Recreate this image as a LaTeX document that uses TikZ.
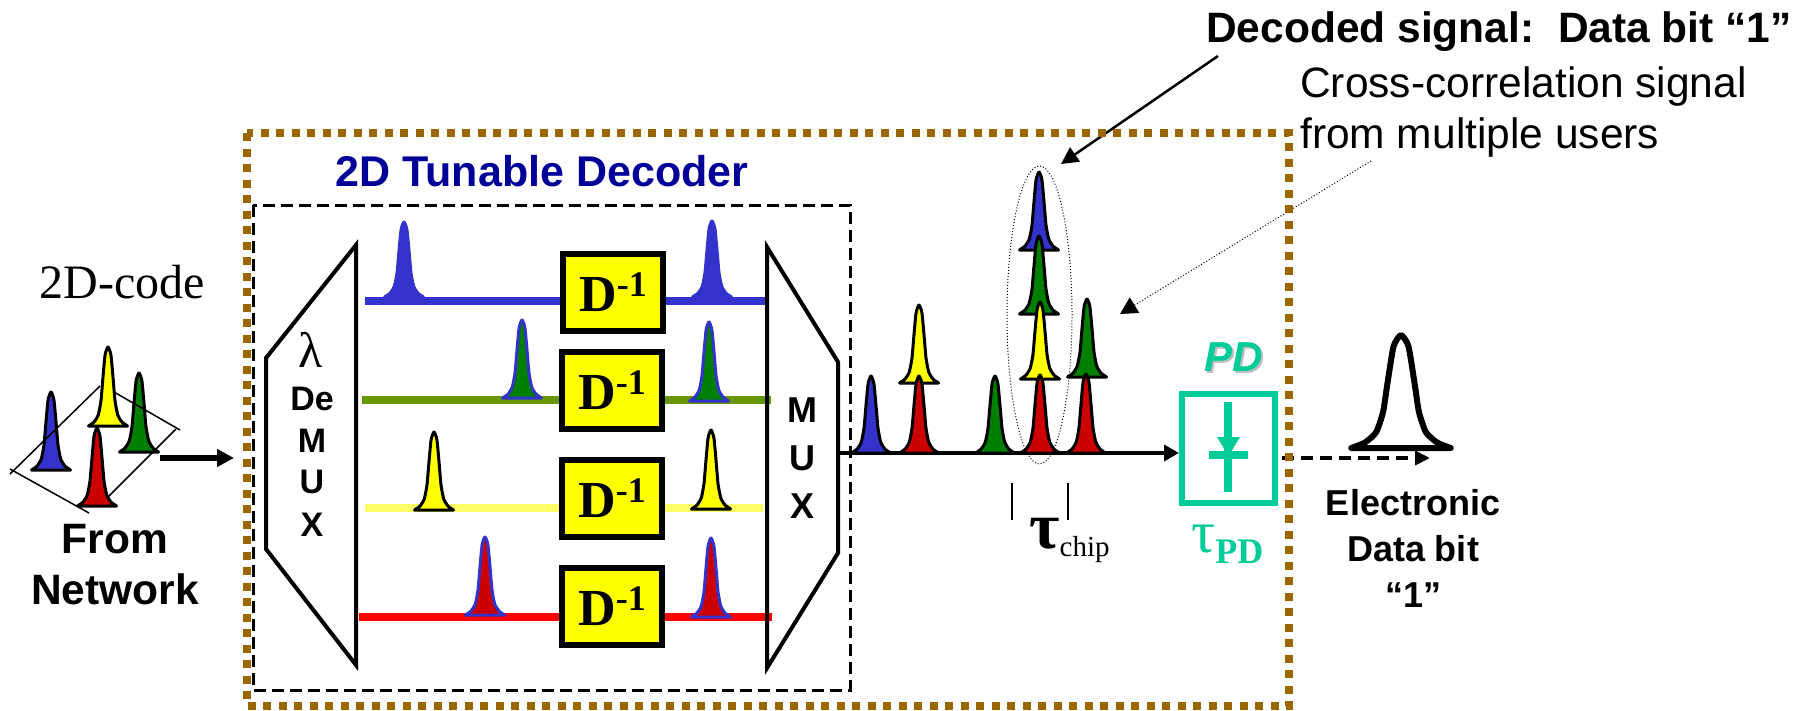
\documentclass[tikz,border=0pt]{standalone}
\usepackage{fontspec}
\setmainfont{Liberation Sans}
\newfontfamily\timesfont{Liberation Serif}
\usetikzlibrary{arrows.meta,shapes.geometric}
\definecolor{pulseblue}{HTML}{3333CC}
\definecolor{pulsegreen}{HTML}{007F00}
\definecolor{pulsered}{HTML}{CC0000}
\definecolor{pulseyellow}{HTML}{FFFF00}
\definecolor{linegreen}{HTML}{669900}
\definecolor{lineyellow}{HTML}{FFFF66}
\definecolor{linered}{HTML}{FF0000}
\definecolor{framebrown}{HTML}{996600}
\definecolor{pdteal}{HTML}{00CC99}
\definecolor{titleblue}{HTML}{000099}
\tikzset{
  boldlabel/.style={font=\fontsize{42.5}{51}\selectfont\bfseries,inner sep=0pt},
  plainlabel/.style={font=\fontsize{42.5}{51}\selectfont,inner sep=0pt},
  muxlabel/.style={font=\fontsize{34}{42}\selectfont\bfseries,inner sep=0pt},
  decoderbox/.style={draw,fill=pulseyellow,line width=6pt,minimum width=100pt,minimum height=77pt,inner sep=0pt,font=\timesfont\bfseries},
  wavelength/.style={line width=8pt},
  muxoutline/.style={line width=4pt,miter limit=20},
  thinrule/.style={line width=1.5pt},
  pulseline/.style={line width=3pt,line join=round,xscale=19.5},
}
% x position, base, height, fill, outline
\newcommand{\pulse}[6][]{\draw [shift={(#2,#3)},pulseline,draw=#6,fill=#5,yscale=#4,#1] plot [smooth,tension=0.35] coordinates {(-1,0) (-0.72,-0.05) (-0.5,-0.14) (-0.36,-0.32) (-0.27,-0.58) (-0.15,-0.9) (0,-1) (0.15,-0.9) (0.27,-0.58) (0.36,-0.32) (0.5,-0.14) (0.72,-0.05) (1,0)} -- cycle;}
\newcommand{\dinverse}{\fontsize{52}{52}\selectfont D\raisebox{15pt}{\fontsize{36}{36}\selectfont -1}}
\begin{document}
\begin{tikzpicture}[x=1pt,y=-1pt]
\useasboundingbox (0,0) rectangle (1806,710);
\coordinate (codeout) at (160,458);
\coordinate (demuxin) at (234,458);
\coordinate (bluein) at (365,301);
\coordinate (blueout) at (767,301);
\coordinate (greenin) at (362,400);
\coordinate (greenout) at (771,400);
\coordinate (yellowin) at (365,508);
\coordinate (yellowout) at (763,508);
\coordinate (redin) at (359,617);
\coordinate (redout) at (772,617);
\coordinate (muxout) at (838,453);
\coordinate (pdout) at (1282,458);
\coordinate (bitend) at (1430,458);
\coordinate (decodedstart) at (1218,56);
\coordinate (decodedtip) at (1061,164);
\coordinate (crossstart) at (1371,161);
\coordinate (crosstip) at (1120,314);
\coordinate (tickaup) at (1012,483);
\coordinate (tickadown) at (1012,520);
\coordinate (tickbup) at (1068,483);
\coordinate (tickbdown) at (1068,520);
\coordinate (planea) at (10,474);
\coordinate (planeb) at (100,386);
\coordinate (planec) at (114,392);
\coordinate (planed) at (180,430);
\coordinate (planee) at (176,429);
\coordinate (planef) at (108,497);
\coordinate (planeg) at (10,469);
\coordinate (planeh) at (89,513);
% incoming code
\pulse{108}{426}{79}{pulseyellow}{black}
\pulse{139}{452}{79}{pulsegreen}{black}
\pulse{51}{470}{78}{pulseblue}{black}
\pulse{97}{506}{78}{pulsered}{black}
\draw [thinrule] (planea) -- (planeb);
\draw [thinrule] (planec) -- (planed);
\draw [thinrule] (planee) -- (planef);
\draw [thinrule] (planeg) -- (planeh);
\node (codelabel) at (122,282) [font=\timesfont\fontsize{48}{48}\selectfont,inner sep=0pt] {2D-code};
\node (fromlabel) at (115,565) [boldlabel,align=center] {From\\Network};
\draw [line width=6pt,-{Triangle[length=17pt,width=17pt]}] (codeout) -- (demuxin);
% decoder
\draw [line width=3pt,dash pattern=on 12pt off 6pt] (253,205) rectangle (850,690);
\node (decodertitle) at (542,171) [boldlabel,text=titleblue,font=\fontsize{43}{51}\selectfont\bfseries] {2D Tunable Decoder};
\draw [wavelength,pulseblue] (bluein) -- (blueout);
\draw [wavelength,linegreen] (greenin) -- (greenout);
\draw [wavelength,lineyellow] (yellowin) -- (yellowout);
\draw [wavelength,linered] (redin) -- (redout);
\draw [muxoutline] (356,245) -- (266,358) -- (266,549) -- (356,665) -- cycle;
\draw [muxoutline] (767,247) -- (838,362) -- (838,553) -- (767,668) -- cycle;
\node (lambda) at (311,350) [font=\timesfont\fontsize{50}{50}\selectfont,inner sep=0pt] {λ};
\node (demuxde) at (312,410) [muxlabel,anchor=base] {De};
\node (demuxm) at (312,452) [muxlabel,anchor=base] {M};
\node (demuxu) at (312,493) [muxlabel,anchor=base] {U};
\node (demuxx) at (312,536) [muxlabel,anchor=base] {X};
\node (muxm) at (802,422) [muxlabel,anchor=base,font=\fontsize{36}{42}\selectfont\bfseries] {M};
\node (muxu) at (802,470) [muxlabel,anchor=base,font=\fontsize{36}{42}\selectfont\bfseries] {U};
\node (muxx) at (802,518) [muxlabel,anchor=base,font=\fontsize{36}{42}\selectfont\bfseries] {X};
\pulse{404}{297}{75}{pulseblue}{pulseblue}
\pulse{712}{297}{76}{pulseblue}{pulseblue}
\pulse{522}{398}{78}{pulsegreen}{pulseblue}
\pulse{709}{401}{79}{pulsegreen}{pulseblue}
\pulse{434}{510}{78}{pulseyellow}{black}
\pulse{711}{509}{79}{pulseyellow}{black}
\pulse{485}{615}{78}{pulsered}{pulseblue}
\pulse{711}{617}{79}{pulsered}{pulseblue}
\node (dblue) at (613,292.5) [decoderbox] {\dinverse};
\node (dgreen) at (612,390.5) [decoderbox] {\dinverse};
\node (dyellow) at (612,498.5) [decoderbox] {\dinverse};
\node (dred) at (612,606.5) [decoderbox] {\dinverse};
% photodetector
\node (pdbox) at (1228.5,448.5) [draw=pdteal,line width=6pt,minimum width=93pt,minimum height=109pt,inner sep=0pt] {};
% output pulses
\draw [line width=3.5pt,-{Triangle[length=15pt,width=16pt]}] (muxout) -- (muxout -| pdbox.west);
\pulse{871}{453}{77}{pulseblue}{black}
\pulse{919}{383}{78}{pulseyellow}{black}
\pulse{919}{453}{77}{pulsered}{black}
\pulse{995}{453}{77}{pulsegreen}{black}
\pulse{1039}{250}{78}{pulseblue}{black}
\pulse{1039}{314}{78}{pulsegreen}{black}
\pulse{1040}{379}{77}{pulseyellow}{black}
\pulse{1040}{453}{78}{pulsered}{black}
\pulse{1087}{377}{78}{pulsegreen}{black}
\pulse{1086}{453}{79}{pulsered}{black}
\node (decodedring) at (1039.5,315) [ellipse,draw,dotted,line width=1pt,minimum width=65pt,minimum height=298pt,inner sep=0pt] {};
\draw [thinrule] (tickaup) -- (tickadown);
\draw [thinrule] (tickbup) -- (tickbdown);
\node (tauchip) at (1029,548) [anchor=base west,inner sep=0pt,font=\timesfont\fontsize{66}{66}\selectfont\bfseries] {τ\raisebox{-8pt}{\fontsize{29}{29}\selectfont\mdseries chip}};
\node (decodedlabel) at (1206,42) [boldlabel,anchor=base west] {Decoded signal:\ \ Data bit “1”};
\node (crosslabel) at (1300,97) [plainlabel,anchor=base west] {Cross-correlation signal};
\node (userslabel) at (1300,148) [plainlabel,anchor=base west] {from multiple users};
\draw [line width=2.5pt,-{Triangle[length=17pt,width=17pt]}] (decodedstart) -- (decodedtip);
\draw [line width=1pt,dotted,-{Triangle[length=17pt,width=18pt]}] (crossstart) -- (crosstip);
\draw [pdteal,line width=8pt] (1228,402) -- (1228,492);
\draw [pdteal,line width=8pt] (1209,455) -- (1248,455);
\fill [pdteal] (1217,437) -- (1240,437) -- (1228.5,456) -- cycle;
\node (pdshadow) at (1236,373) [boldlabel,anchor=base,text=black!25,font=\fontsize{42}{42}\selectfont\bfseries\itshape] {PD};
\node (pdlabel) at (1234,371) [boldlabel,anchor=base,text=pdteal,font=\fontsize{42}{42}\selectfont\bfseries\itshape] {PD};
\node (taupd) at (1191,552) [anchor=base west,inner sep=0pt,text=pdteal,font=\timesfont\fontsize{60}{60}\selectfont] {τ\raisebox{-11pt}{\fontsize{36}{36}\selectfont\bfseries PD}};
% output bit
\draw [line width=4pt,dash pattern=on 12pt off 7pt,-{Triangle[length=15pt,width=14pt]}] (pdout) -- (bitend);
\pulse[line width=6pt,xscale=2.55]{1401}{448}{113}{none}{black}
\node (bitlabel) at (1413,548) [boldlabel,align=center,font=\fontsize{36}{46}\selectfont\bfseries] {Electronic\\Data bit\\“1”};
% frame
\draw [framebrown,line width=8pt,dash pattern=on 8pt off 7.5pt] (247,133) rectangle (1289,706);
\end{tikzpicture}
\end{document}
